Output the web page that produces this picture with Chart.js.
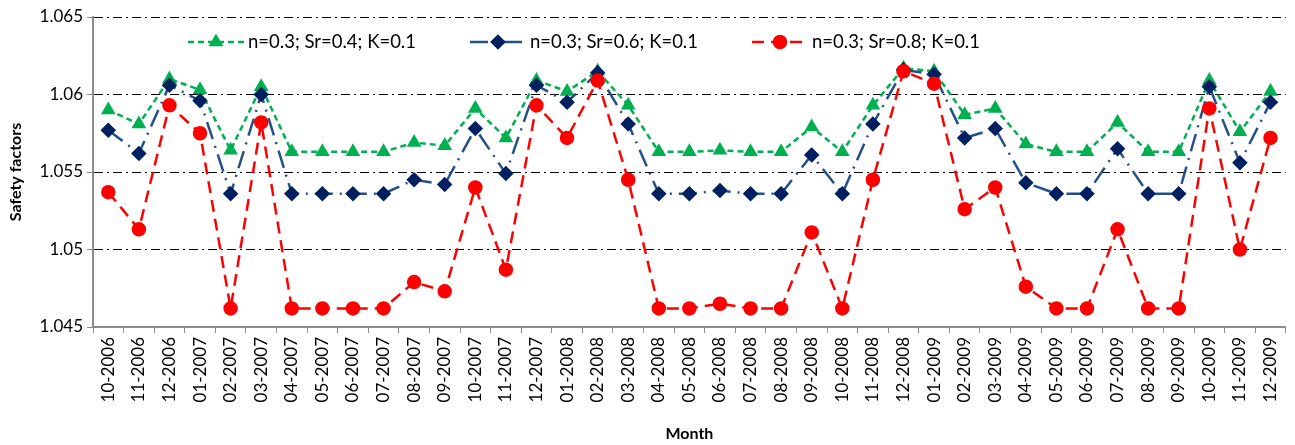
<!DOCTYPE html>
<html>
<head>
<meta charset="utf-8">
<script src="https://cdn.jsdelivr.net/npm/chart.js@4.4.1/dist/chart.umd.min.js"></script>
<style>
  html, body { margin: 0; padding: 0; background: #fff; }
  #wrap { width: 1295px; height: 445px; }
</style>
</head>
<body>
<div id="wrap"><canvas id="grafico" width="1295" height="445"></canvas></div>
<script>
// meses (eixo x)
var meses = ['10-2006', '11-2006', '12-2006',
    '01-2007', '02-2007', '03-2007', '04-2007', '05-2007', '06-2007', '07-2007', '08-2007', '09-2007', '10-2007', '11-2007', '12-2007',
    '01-2008', '02-2008', '03-2008', '04-2008', '05-2008', '06-2008', '07-2008', '08-2008', '09-2008', '10-2008', '11-2008', '12-2008',
    '01-2009', '02-2009', '03-2009', '04-2009', '05-2009', '06-2009', '07-2009', '08-2009', '09-2009', '10-2009', '11-2009', '12-2009'];

var sr04 = [1.0590, 1.0581, 1.0610,
    1.0603, 1.0564, 1.0605, 1.0563, 1.0563, 1.0563, 1.0563, 1.0569, 1.0567, 1.0591, 1.0572, 1.0609,
    1.0602, 1.0615, 1.0593, 1.0563, 1.0563, 1.0564, 1.0563, 1.0563, 1.0579, 1.0563, 1.0593, 1.0617,
    1.0615, 1.0587, 1.0591, 1.0568, 1.0563, 1.0563, 1.0582, 1.0563, 1.0563, 1.0609, 1.0576, 1.0602];

var sr06 = [1.0577, 1.0562, 1.0606,
    1.0596, 1.0536, 1.0600, 1.0536, 1.0536, 1.0536, 1.0536, 1.0545, 1.0542, 1.0578, 1.0549, 1.0606,
    1.0595, 1.0614, 1.0581, 1.0536, 1.0536, 1.0538, 1.0536, 1.0536, 1.0561, 1.0536, 1.0581, 1.0616,
    1.0613, 1.0572, 1.0578, 1.0543, 1.0536, 1.0536, 1.0565, 1.0536, 1.0536, 1.0605, 1.0556, 1.0595];

var sr08 = [1.0537, 1.0513, 1.0593,
    1.0575, 1.0462, 1.0582, 1.0462, 1.0462, 1.0462, 1.0462, 1.0479, 1.0473, 1.0540, 1.0487, 1.0593,
    1.0572, 1.0609, 1.0545, 1.0462, 1.0462, 1.0465, 1.0462, 1.0462, 1.0511, 1.0462, 1.0545, 1.0615,
    1.0607, 1.0526, 1.0540, 1.0476, 1.0462, 1.0462, 1.0513, 1.0462, 1.0462, 1.0591, 1.0500, 1.0572];

var nomes = ['n=0.3; Sr=0.4; K=0.1', 'n=0.3; Sr=0.6; K=0.1', 'n=0.3; Sr=0.8; K=0.1'];
var yTicks = ['1.045', '1.05', '1.055', '1.06', '1.065'];

var fonte = 'Lato, "Liberation Sans", sans-serif';

// legenda desenhada dentro da area do grafico
var legendaDentro = {
    id: 'legendaDentro',
    afterDatasetsDraw: function (chart) {
        var ctx = chart.ctx;
        var posX = [188, 470, 752];
        var y = chart.chartArea.top + 25;
        ctx.save();
        chart.data.datasets.forEach(function (ds, i) {
            var x = posX[i];
            ctx.strokeStyle = ds.borderColor;
            ctx.lineWidth = ds.borderWidth;
            ctx.setLineDash(ds.borderDash);
            ctx.beginPath();
            ctx.moveTo(x, y);
            ctx.lineTo(x + 56, y);
            ctx.stroke();
            ctx.setLineDash([]);
            ctx.fillStyle = ds.pointBackgroundColor;
            ctx.strokeStyle = ds.pointBorderColor;
            Chart.helpers.drawPoint(ctx, {
                pointStyle: ds.pointStyle,
                radius: ds.pointRadius,
                rotation: 0,
                borderWidth: 1
            }, x + 28, y);
            ctx.fillStyle = '#000';
            ctx.font = '18.5px ' + fonte;
            ctx.textBaseline = 'middle';
            ctx.fillText(ds.label, x + 60, y);
        });
        ctx.restore();
    }
};

var ctx = document.getElementById('grafico');
var myChart = new Chart(ctx, {
    type: 'line',
    data: {
        labels: meses,
        datasets: [{
            label: nomes[0],
            data: sr04,
            borderColor: '#00B050',
            borderWidth: 2.5,
            borderDash: [6, 4],
            pointStyle: 'triangle',
            pointRadius: 6,
            pointBackgroundColor: '#00B050',
            pointBorderColor: '#00B050',
            order: 2
        },
        {
            label: nomes[1],
            data: sr06,
            borderColor: '#24508A',
            borderWidth: 2.5,
            borderDash: [18, 7, 2, 7],
            pointStyle: 'rectRot',
            pointRadius: 6,
            pointBackgroundColor: '#002060',
            pointBorderColor: '#002060',
            order: 1
        },
        {
            label: nomes[2],
            data: sr08,
            borderColor: '#FF0000',
            borderWidth: 2.5,
            borderDash: [12, 7],
            pointStyle: 'circle',
            pointRadius: 6,
            pointBackgroundColor: '#FF0000',
            pointBorderColor: '#FF0000',
            order: 0
        }]
    },
    options: {
        responsive: false,
        animation: false,
        layout: {
            padding: { top: 17, right: 0, left: 0, bottom: 0 }
        },
        plugins: {
            legend: { display: false },
            tooltip: { enabled: false }
        },
        elements: {
            line: { tension: 0 }
        },
        scales: {
            x: {
                offset: true,
                afterFit: function (scale) { scale.height = 118; },
                grid: {
                    drawOnChartArea: false,
                    drawTicks: true,
                    tickLength: 6,
                    color: '#8c8c8c',
                    offset: true
                },
                border: { color: '#8c8c8c', width: 2 },
                ticks: {
                    minRotation: 90,
                    maxRotation: 90,
                    autoSkip: false,
                    padding: 4,
                    color: '#000',
                    font: { family: fonte, size: 17 }
                },
                title: {
                    display: true,
                    text: 'Month',
                    color: '#000',
                    padding: { top: 0, bottom: 2 },
                    font: { family: fonte, size: 16, weight: 'bold' }
                }
            },
            y: {
                min: 1.045,
                max: 1.065,
                afterFit: function (scale) { scale.width = 93; },
                ticks: {
                    stepSize: 0.005,
                    padding: 4,
                    color: '#000',
                    font: { family: fonte, size: 17 },
                    callback: function (value, index) { return yTicks[index]; }
                },
                grid: {
                    color: function (c) { return c.index === 0 ? 'rgba(0,0,0,0)' : '#000'; },
                    lineWidth: 1,
                    tickLength: 6,
                    tickColor: '#8c8c8c',
                    tickBorderDash: []
                },
                border: { color: '#8c8c8c', width: 2, dash: [9, 4, 2, 4] },
                title: {
                    display: true,
                    text: 'Safety factors',
                    color: '#000',
                    padding: { top: 6, bottom: 0 },
                    font: { family: fonte, size: 16, weight: 'bold' }
                }
            }
        }
    },
    plugins: [legendaDentro]
});
</script>
</body>
</html>
